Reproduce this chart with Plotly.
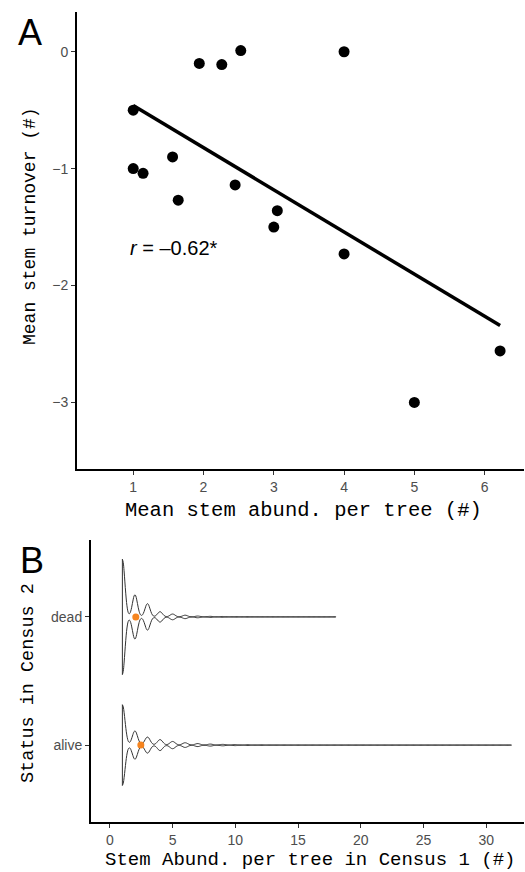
import numpy as np
import plotly.graph_objects as go

# ---------------- Panel A data ----------------
abund_mean = [1.0, 1.0, 1.14, 1.56, 1.64, 1.94, 2.26, 2.53, 2.45, 4.0, 3.05, 3.0, 4.0, 6.22, 5.0]
turnover_mean = [-0.50, -1.00, -1.04, -0.90, -1.27, -0.10, -0.11, 0.01, -1.14, 0.00, -1.36, -1.50, -1.73, -2.56, -3.00]
corr_label = "<i>r</i> = –0.62*"

# ---------------- Panel B data ----------------
stem_values = list(range(1, 33))
dead_counts = [400, 154, 92, 36, 20, 12, 6, 4, 3, 2, 2, 1, 1, 1, 1, 1, 0, 1,
               0, 0, 0, 0, 0, 0, 0, 0, 0, 0, 0, 0, 0, 0]
alive_counts = [1000, 350, 200, 136, 90, 58, 37, 25, 18, 13, 10, 8, 6, 5, 4, 3, 3, 2,
                2, 2, 1, 1, 1, 1, 1, 1, 1, 1, 0, 1, 0, 1]
status_levels = ["alive", "dead"]
status_means = [2.47, 2.07]

TITLE_FONT = "Liberation Mono"
TICK_FONT = "Liberation Sans"
TICK_COLOR = "#4d4d4d"

fig = go.Figure()

# Panel A scatter
fig.add_trace(go.Scatter(x=abund_mean, y=turnover_mean, mode="markers",
                         marker=dict(color="black", size=11), xaxis="x", yaxis="y",
                         showlegend=False))
# Regression line
slope, intercept = np.polyfit(abund_mean, turnover_mean, 1)
xl = np.array([min(abund_mean), max(abund_mean)])
fig.add_trace(go.Scatter(x=xl, y=slope * xl + intercept, mode="lines",
                         line=dict(color="black", width=3.5), xaxis="x", yaxis="y",
                         showlegend=False))

# Panel B violins
dead_vals = np.repeat(stem_values, dead_counts)
alive_vals = np.repeat(stem_values, alive_counts)
for name, vals, w, bw in [("dead", dead_vals, 0.9, 0.2), ("alive", alive_vals, 0.63, 0.21)]:
    fig.add_trace(go.Violin(x=vals, y=[name] * len(vals), orientation="h", name=name,
                            side="both", spanmode="hard", bandwidth=bw, width=w,
                            scalemode="width", line=dict(color="#333333", width=1),
                            fillcolor="rgba(255,255,255,0)", points=False,
                            box_visible=False, meanline_visible=False,
                            xaxis="x2", yaxis="y2", showlegend=False, hoveron="violins"))
fig.add_trace(go.Scatter(x=status_means, y=status_levels, mode="markers",
                         marker=dict(color="#F5841F", size=7), xaxis="x2", yaxis="y2",
                         showlegend=False))

W, H = 525, 872
axis_common = dict(showline=True, linecolor="black", linewidth=2, mirror=False,
                   showgrid=False, zeroline=False, ticks="outside", ticklen=4,
                   tickcolor="#333333", tickwidth=1,
                   tickfont=dict(family=TICK_FONT, size=14, color=TICK_COLOR))

fig.update_layout(
    width=W, height=H, margin=dict(l=0, r=0, t=0, b=0),
    paper_bgcolor="white", plot_bgcolor="white",
    violinmode="overlay", showlegend=False,
    xaxis=dict(domain=[77 / W, 524 / W], range=[0.2, 6.56], tickvals=[1, 2, 3, 4, 5, 6],
               anchor="y", **axis_common),
    yaxis=dict(domain=[1 - 469 / H, 1 - 12 / H], range=[-3.57, 0.34], tickvals=[0, -1, -2, -3],
               anchor="x", **axis_common),
    xaxis2=dict(domain=[91 / W, 524 / W], range=[-1.5, 33], tickvals=[0, 5, 10, 15, 20, 25, 30],
                anchor="y2", **axis_common),
    yaxis2=dict(domain=[1 - 822 / H, 1 - 540 / H], range=[-0.6, 1.6], type="category",
                categoryorder="array", categoryarray=status_levels, anchor="x2", **axis_common),
)

ann = [
    dict(text=corr_label, x=0.93, y=-1.68, xref="x", yref="y", xanchor="left", yanchor="middle",
         showarrow=False, font=dict(family=TICK_FONT, size=20, color="black")),
    dict(text="A", x=30 / W, y=1 - 33 / H, xref="paper", yref="paper", showarrow=False,
         xanchor="center", yanchor="middle", font=dict(family=TICK_FONT, size=36, color="black")),
    dict(text="B", x=32 / W, y=1 - 560 / H, xref="paper", yref="paper", showarrow=False,
         xanchor="center", yanchor="middle", font=dict(family=TICK_FONT, size=36, color="black")),
    dict(text="Mean stem abund. per tree (#)", x=303 / W, y=1 - 510 / H, xref="paper", yref="paper",
         showarrow=False, xanchor="center", yanchor="middle",
         font=dict(family=TITLE_FONT, size=20.5, color="black")),
    dict(text="Mean stem turnover (#)", x=30 / W, y=1 - 226 / H, xref="paper", yref="paper",
         showarrow=False, xanchor="center", yanchor="middle", textangle=-90,
         font=dict(family=TITLE_FONT, size=18, color="black")),
    dict(text="Status in Census 2", x=28 / W, y=1 - 683 / H, xref="paper", yref="paper",
         showarrow=False, xanchor="center", yanchor="middle", textangle=-90,
         font=dict(family=TITLE_FONT, size=18.5, color="black")),
    dict(text="Stem Abund. per tree in Census 1 (#)", x=310 / W, y=1 - 860 / H, xref="paper",
         yref="paper", showarrow=False, xanchor="center", yanchor="middle",
         font=dict(family=TITLE_FONT, size=19, color="black")),
]
fig.update_layout(annotations=ann)

fig.write_html("out.html")
